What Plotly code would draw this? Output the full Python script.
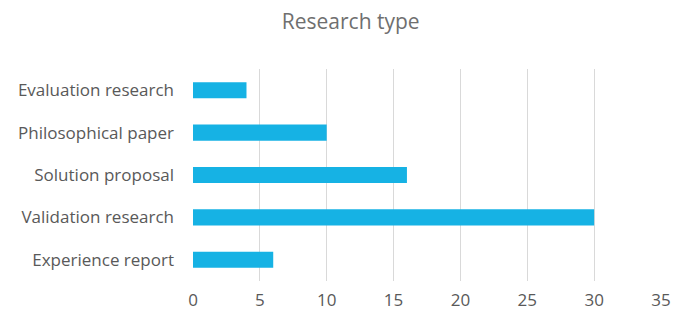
import plotly.graph_objects as go

categories = ["Experience report", "Validation research", "Solution proposal",
              "Philosophical paper", "Evaluation research"]
values = [6, 30, 16, 10, 4]
x_ticks = [0, 5, 10, 15, 20, 25, 30, 35]

fig = go.Figure(go.Bar(
    y=categories, x=values, orientation="h",
    marker=dict(color="#16B2E4", line=dict(width=0)),
))

fig.update_layout(
    width=681, height=312,
    margin=dict(l=193, r=20, t=69, b=31, autoexpand=False),
    paper_bgcolor="white", plot_bgcolor="white",
    font=dict(family="Open Sans, sans-serif", color="#595959", size=17),
    title=dict(text="Research type", x=0.515, xanchor="center", y=0.93, yanchor="middle",
               font=dict(size=21, color="#6f6f6f")),
    bargap=0.62,
    showlegend=False,
)
fig.update_xaxes(range=[0, 35], tickvals=x_ticks, showgrid=True, gridcolor="#d9d9d9",
                 gridwidth=1, zeroline=False, showline=False, ticks="", ticklabelstandoff=7,
                 automargin=False)
fig.update_yaxes(showgrid=False, showline=False, ticks="", ticklabelstandoff=18,
                 automargin=False)

fig.write_html("out.html", config={"displayModeBar": False},
               post_script="document.body.style.margin='0';document.body.style.overflow='hidden';")
